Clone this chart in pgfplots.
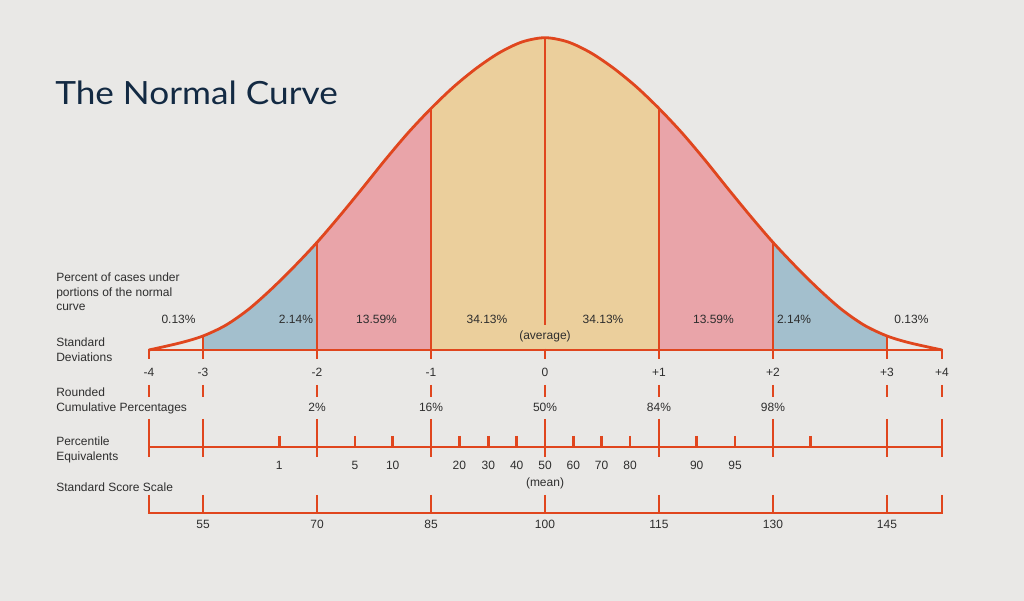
\documentclass[border=0pt]{standalone}
\usepackage{pgfplots}
\pgfplotsset{compat=1.18}
\usepackage{pgfplotstable}
\usepgfplotslibrary{fillbetween}
\usepackage{fontspec}
\setmainfont{Liberation Sans}
\newfontfamily\titlefont{Lato}
\definecolor{bg}{HTML}{E9E8E6}
\definecolor{cline}{HTML}{E0461E}
\definecolor{cblue}{HTML}{A3BFCD}
\definecolor{cpink}{HTML}{E9A4A9}
\definecolor{ctan}{HTML}{EBCF9C}
\definecolor{titlec}{HTML}{132A43}
\definecolor{txt}{HTML}{2E2E2E}

\pgfplotstableread{
x h
-3.474 0
-3.2 7.1
-3.0 14.0
-2.8 24.8
-2.6 40.7
-2.4 60.9
-2.2 83.4
-2.0 107.6
-1.8 134.2
-1.6 162.0
-1.4 190.4
-1.2 217.3
-1.0 241.5
-0.8 263.3
-0.6 281.9
-0.4 297.3
-0.2 308.1
0 312.3
0.2 308.1
0.4 297.3
0.6 281.9
0.8 263.3
1.0 241.5
1.2 217.3
1.4 190.4
1.6 162.0
1.8 134.2
2.0 107.6
2.2 83.4
2.4 60.9
2.6 40.7
2.8 24.8
3.0 14.0
3.2 7.1
3.482 0
}\curvetab

\tikzset{
  lab/.style={font=\fontsize{12}{14}\selectfont, text=txt, inner sep=0pt},
  scl/.style={cline, line width=2.8pt, line cap=butt},
  vln/.style={cline, line width=2.3pt, line cap=butt},
}

\begin{document}
\begin{tikzpicture}
\begin{axis}[
  width=1024pt, height=601pt, scale only axis,
  xmin=-4.781, xmax=4.202, ymin=-251, ymax=350,
  hide axis, clip=false, set layers,
]
% background
\addplot[fill=bg, draw=none, on layer=axis background] coordinates {(-4.781,-251)(4.202,-251)(4.202,350)(-4.781,350)};

% curve path and base
\addplot[draw=none, smooth, name path=curve] table[x=x,y=h] {\curvetab};
\addplot[draw=none, name path=base] coordinates {(-3.6,0)(3.6,0)};

% fills
\addplot[fill=cblue, draw=none] fill between[of=curve and base, soft clip={domain=-3:-2}];
\addplot[fill=cpink, draw=none] fill between[of=curve and base, soft clip={domain=-2:-1}];
\addplot[fill=ctan,  draw=none] fill between[of=curve and base, soft clip={domain=-1:1}];
\addplot[fill=cpink, draw=none] fill between[of=curve and base, soft clip={domain=1:2}];
\addplot[fill=cblue, draw=none] fill between[of=curve and base, soft clip={domain=2:3}];

% vertical dividers
\addplot[vln] coordinates {(-3,0)(-3,14)};
\addplot[vln] coordinates {(3,0)(3,14)};
\addplot[vln] coordinates {(-2,0)(-2,107.6)};
\addplot[vln] coordinates {(2,0)(2,107.6)};
\addplot[vln] coordinates {(-1,0)(-1,241.5)};
\addplot[vln] coordinates {(1,0)(1,241.5)};
\addplot[vln] coordinates {(0,25)(0,312)};

% visible curve
\addplot[cline, line width=2.8pt, smooth, line join=round] table[x=x,y=h] {\curvetab};

% SD baseline and ticks
\addplot[scl] coordinates {(-3.474,0)(3.482,0)};
\pgfplotsinvokeforeach{-3.474,-3,-2,-1,0,1,2,3,3.482}{
  \addplot[scl] coordinates {(#1,1.4)(#1,-9)};
  \addplot[scl] coordinates {(#1,-35)(#1,-47)};
  \addplot[scl] coordinates {(#1,-69)(#1,-107)};
  \addplot[scl] coordinates {(#1,-145)(#1,-164.4)};
}
% percentile line and minor ticks
\addplot[scl] coordinates {(-3.474,-97)(3.482,-97)};
\pgfplotsinvokeforeach{-2.331,-1.667,-1.336,-0.752,-0.497,-0.248,0.248,0.497,0.746,1.331,1.667,2.331}{
  \addplot[scl] coordinates {(#1,-86)(#1,-97)};
}
% standard score line
\addplot[scl] coordinates {(-3.474,-163)(3.482,-163)};

% title
\node[anchor=base west, inner sep=0pt, text=titlec, font=\titlefont\fontsize{32}{36}\selectfont] at (axis cs:-4.298,245) {\scalebox{1.1}[1]{The Normal Curve}};

% left labels
\node[lab, anchor=base west] at (axis cs:-4.289,68) {Percent of cases under};
\node[lab, anchor=base west] at (axis cs:-4.289,53) {portions of the normal};
\node[lab, anchor=base west] at (axis cs:-4.289,39) {curve};
\node[lab, anchor=base west] at (axis cs:-4.289,3) {Standard};
\node[lab, anchor=base west] at (axis cs:-4.289,-12) {Deviations};
\node[lab, anchor=base west] at (axis cs:-4.289,-47) {Rounded};
\node[lab, anchor=base west] at (axis cs:-4.289,-62) {Cumulative Percentages};
\node[lab, anchor=base west] at (axis cs:-4.289,-96) {Percentile};
\node[lab, anchor=base west] at (axis cs:-4.289,-111) {Equivalents};
\node[lab, anchor=base west] at (axis cs:-4.289,-142) {Standard Score Scale};

% percent labels
\node[lab, anchor=base] at (axis cs:-3.215,26) {0.13\%};
\node[lab, anchor=base] at (axis cs:-2.185,26) {2.14\%};
\node[lab, anchor=base] at (axis cs:-1.478,26) {13.59\%};
\node[lab, anchor=base] at (axis cs:-0.509,26) {34.13\%};
\node[lab, anchor=base] at (axis cs:0.509,26) {34.13\%};
\node[lab, anchor=base] at (axis cs:1.478,26) {13.59\%};
\node[lab, anchor=base] at (axis cs:2.185,26) {2.14\%};
\node[lab, anchor=base] at (axis cs:3.215,26) {0.13\%};
\node[lab, anchor=base] at (axis cs:0,10) {(average)};

% SD labels
\node[lab, anchor=base] at (axis cs:-3.474,-27) {-4};
\node[lab, anchor=base] at (axis cs:-3,-27) {-3};
\node[lab, anchor=base] at (axis cs:-2,-27) {-2};
\node[lab, anchor=base] at (axis cs:-1,-27) {-1};
\node[lab, anchor=base] at (axis cs:0,-27) {0};
\node[lab, anchor=base] at (axis cs:1,-27) {+1};
\node[lab, anchor=base] at (axis cs:2,-27) {+2};
\node[lab, anchor=base] at (axis cs:3,-27) {+3};
\node[lab, anchor=base] at (axis cs:3.482,-27) {+4};

% cumulative
\node[lab, anchor=base] at (axis cs:-2,-62) {2\%};
\node[lab, anchor=base] at (axis cs:-1,-62) {16\%};
\node[lab, anchor=base] at (axis cs:0,-62) {50\%};
\node[lab, anchor=base] at (axis cs:1,-62) {84\%};
\node[lab, anchor=base] at (axis cs:2,-62) {98\%};

% percentile labels
\node[lab, anchor=base] at (axis cs:-2.331,-120) {1};
\node[lab, anchor=base] at (axis cs:-1.667,-120) {5};
\node[lab, anchor=base] at (axis cs:-1.336,-120) {10};
\node[lab, anchor=base] at (axis cs:-0.752,-120) {20};
\node[lab, anchor=base] at (axis cs:-0.497,-120) {30};
\node[lab, anchor=base] at (axis cs:-0.248,-120) {40};
\node[lab, anchor=base] at (axis cs:0,-120) {50};
\node[lab, anchor=base] at (axis cs:0.248,-120) {60};
\node[lab, anchor=base] at (axis cs:0.497,-120) {70};
\node[lab, anchor=base] at (axis cs:0.746,-120) {80};
\node[lab, anchor=base] at (axis cs:1.331,-120) {90};
\node[lab, anchor=base] at (axis cs:1.667,-120) {95};
\node[lab, anchor=base] at (axis cs:0,-137) {(mean)};

% standard scores
\node[lab, anchor=base] at (axis cs:-3,-179) {55};
\node[lab, anchor=base] at (axis cs:-2,-179) {70};
\node[lab, anchor=base] at (axis cs:-1,-179) {85};
\node[lab, anchor=base] at (axis cs:0,-179) {100};
\node[lab, anchor=base] at (axis cs:1,-179) {115};
\node[lab, anchor=base] at (axis cs:2,-179) {130};
\node[lab, anchor=base] at (axis cs:3,-179) {145};
\end{axis}
\end{tikzpicture}
\end{document}
